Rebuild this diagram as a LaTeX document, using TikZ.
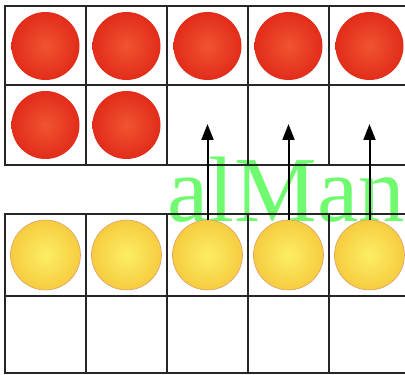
\documentclass[tikz,border=0pt]{standalone}
\usepackage{fontspec}
\newfontfamily\markfont{Liberation Serif}
\usetikzlibrary{arrows.meta}

\definecolor{markgreen}{RGB}{112,250,112}
\definecolor{redin}{RGB}{240,84,48}
\definecolor{redout}{RGB}{226,44,26}
\definecolor{yellowin}{RGB}{252,238,100}
\definecolor{yellowout}{RGB}{246,204,64}
\definecolor{yellowrim}{RGB}{205,120,50}

\tikzset{
  cellline/.style={line width=1.4pt, black!85},
  redball/.style={circle, minimum size=68pt, inner sep=0pt, inner color=redin, outer color=redout},
  yellowball/.style={circle, minimum size=70pt, inner sep=0pt, inner color=yellowin, outer color=yellowout, draw=yellowrim!70, line width=0.6pt},
  uparrow/.style={-{Triangle[length=16pt,width=12pt]}, line width=2pt, black}
}

\begin{document}
\begin{tikzpicture}[x=1pt,y=1pt]
	\useasboundingbox (0,0) rectangle (405,375);
	\clip (0,0) rectangle (405,375);
	\fill[white] (0,0) rectangle (405,375);

	% Watermark
	\node[anchor=base west, inner sep=0pt, text=markgreen] (mark) at (167,153)
		{\markfont\fontsize{93}{93}\selectfont alMan};

	% Top frame
	\foreach \i in {0,...,4} {
		\draw[cellline] (5+81*\i,290) rectangle (86+81*\i,369);
		\draw[cellline] (5+81*\i,210) rectangle (86+81*\i,290);
	}

	% Bottom frame
	\foreach \i in {0,...,4} {
		\draw[cellline] (5+81*\i,79) rectangle (86+81*\i,161);
		\draw[cellline] (5+81*\i,2) rectangle (86+81*\i,79);
	}

	% Red counters
	\foreach \i in {1,...,5}
		\node[redball] (r\i) at (-35.5+81*\i,329) {};
	\foreach \i in {6,7}
		\node[redball] (r\i) at (-440.5+81*\i,250) {};

	% Yellow counters
	\foreach \i in {1,...,5}
		\node[yellowball] (y\i) at (-35.5+81*\i,120) {};

	% Arrows up to the empty cells
	\coordinate (tiprow) at (0,251);
	\foreach \i in {3,4,5}
		\draw[uparrow] (y\i.north) -- (y\i.north |- tiprow);
\end{tikzpicture}
\end{document}
